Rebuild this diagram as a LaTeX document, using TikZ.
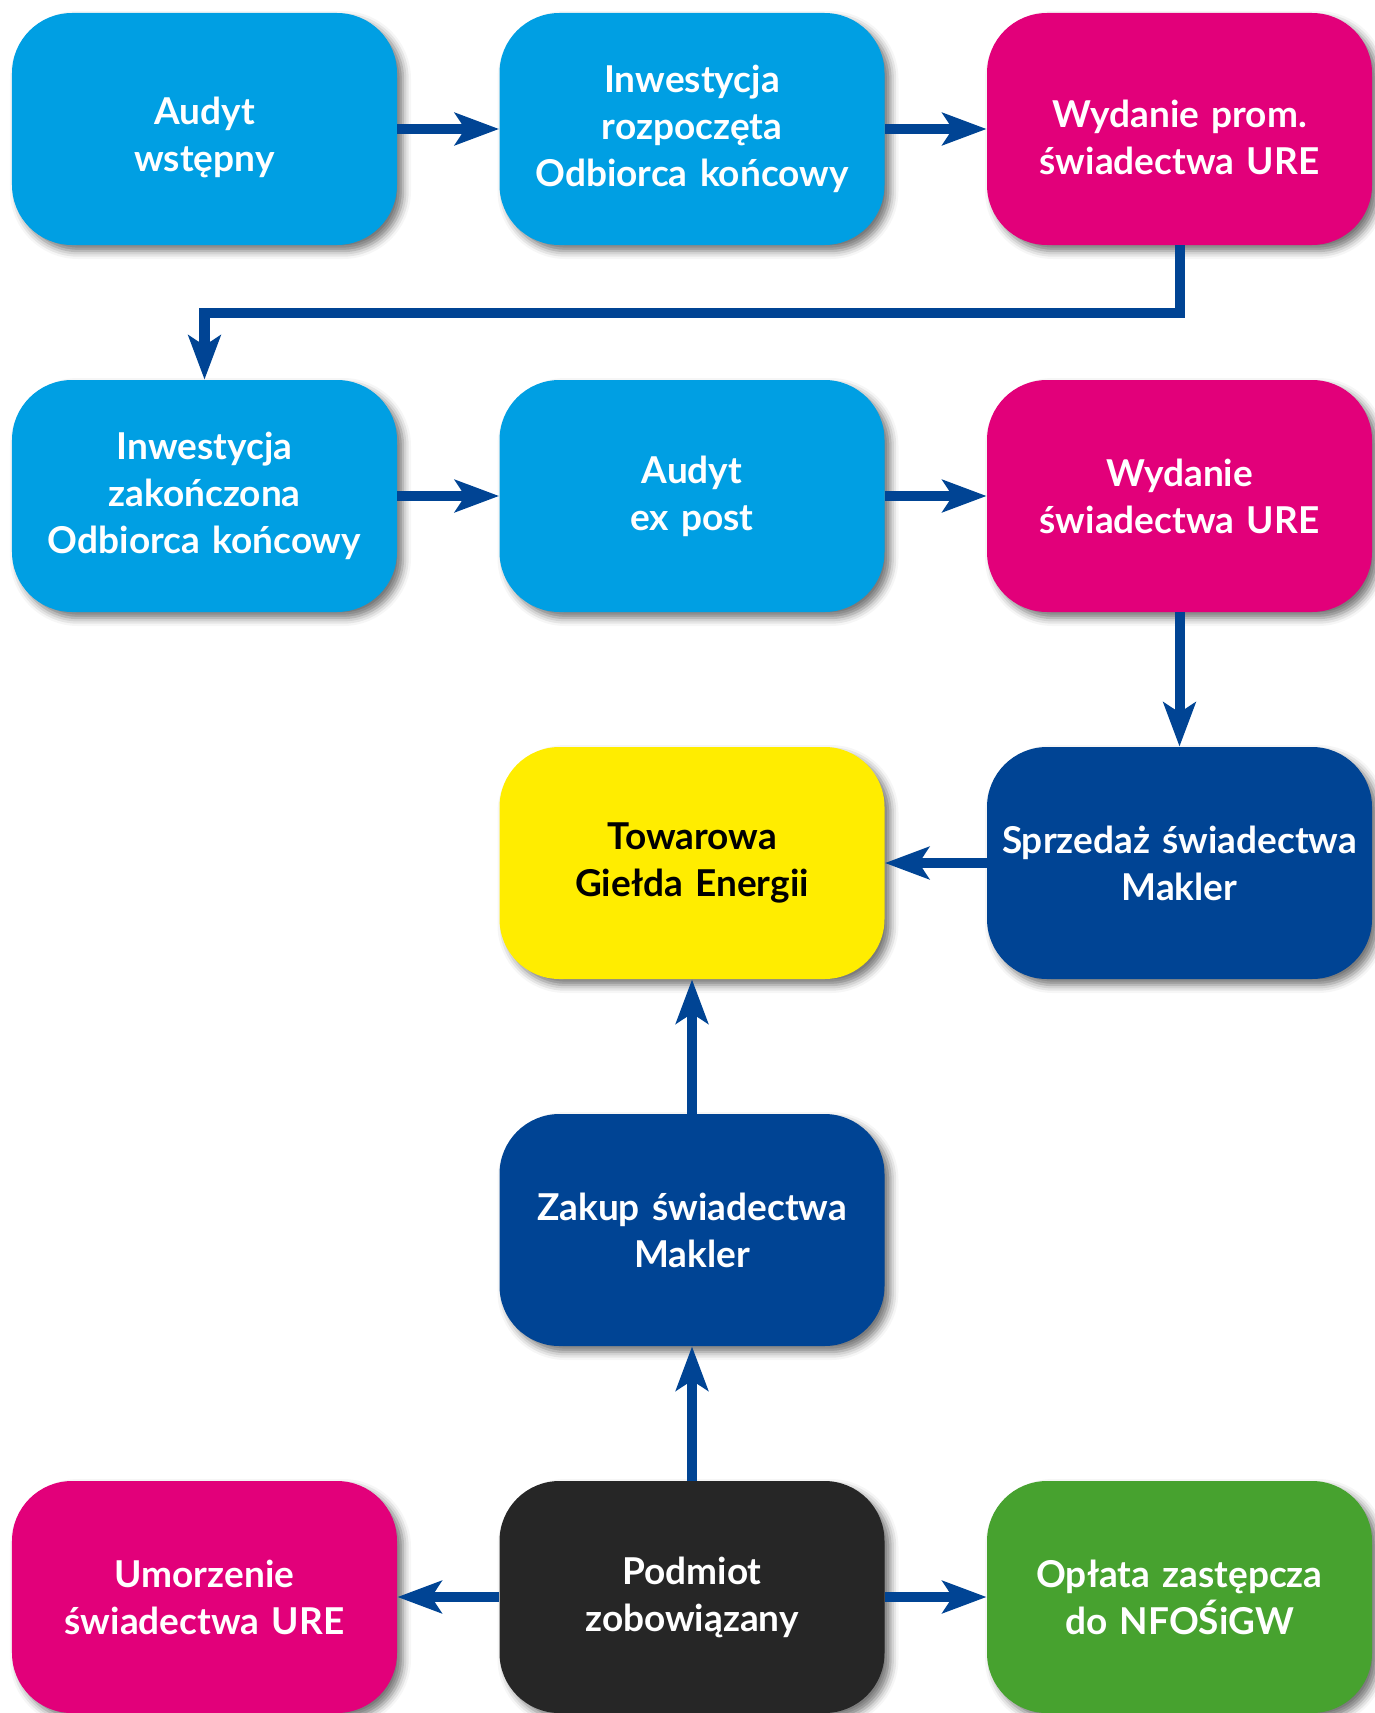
\documentclass[tikz,border=0pt]{standalone}
\usepackage{fontspec}
\setmainfont{Lato}
\usepackage{tikz}
\usetikzlibrary{arrows.meta}
\usetikzlibrary{positioning}
\usetikzlibrary{calc}
\usetikzlibrary{shadows.blur}

\definecolor{lightblue}{HTML}{009FE3}
\definecolor{magenta}{HTML}{E2007A}
\definecolor{darkblue}{HTML}{004494}
\definecolor{yellowbox}{HTML}{FFED00}
\definecolor{blackbox}{HTML}{262626}
\definecolor{greenbox}{HTML}{47A22F}

% taller first line, text sits a bit lower in the box
\newcommand{\pushdown}{\rule{0pt}{22pt}}

\tikzset{
  box/.style={rectangle, rounded corners=30pt, minimum width=192.5pt, minimum height=116pt,
    text width=185pt, align=center, text=white, inner sep=0pt,
    font=\bfseries\fontsize{18.5}{23.5}\selectfont,
    blur shadow={shadow xshift=3pt, shadow yshift=-3pt, shadow blur radius=4pt, shadow opacity=55}},
  bluebox/.style={box, fill=lightblue},
  pinkbox/.style={box, fill=magenta},
  navybox/.style={box, fill=darkblue},
  yelbox/.style={box, fill=yellowbox, text=black},
  darkbox/.style={box, fill=blackbox},
  grnbox/.style={box, fill=greenbox},
  flow/.style={draw=darkblue, line width=5pt, -{Stealth[length=22pt, width=16pt, inset=5pt]}}
}

\begin{document}
\begin{tikzpicture}[node distance=183.5pt and 243.75pt,on grid]
   \useasboundingbox (-102.25pt,64.5pt) rectangle (585.25pt,-792pt);
   \node[bluebox] (audyt)     {\pushdown Audyt\\wstępny};
   \node[bluebox] (inw_start) [right=of audyt] {Inwestycja\\rozpoczęta\\Odbiorca końcowy};
   \node[pinkbox] (ure_prom)  [right=of inw_start] {\pushdown Wydanie prom.\\świadectwa URE};
   \node[bluebox] (inw_end)   [below=of audyt] {Inwestycja\\zakończona\\Odbiorca końcowy};
   \node[bluebox] (expost)    [right=of inw_end] {Audyt\\ex post};
   \node[pinkbox] (ure)       [right=of expost] {Wydanie\\świadectwa URE};
   \node[yelbox]  (tge)       [below=of expost] {Towarowa\\Giełda Energii};
   \node[navybox] (sprzedaz)  [below=of ure] {Sprzedaż świadectwa\\Makler};
   \node[navybox] (zakup)     [below=of tge] {Zakup świadectwa\\Makler};
   \node[darkbox] (podmiot)   [below=of zakup] {Podmiot\\zobowiązany};
   \node[pinkbox] (umorzenie) [left=of podmiot] {Umorzenie\\świadectwa URE};
   \node[grnbox]  (oplata)    [right=of podmiot] {Opłata zastępcza\\do NFOŚiGW};
   \coordinate (elbow) at ($(ure_prom.south)!0.5!(inw_end.north -| ure_prom)$);
    \path[flow]
    (audyt) edge (inw_start)
    (inw_start) edge (ure_prom)
    (inw_end) edge (expost)
    (expost) edge (ure)
    (ure) edge (sprzedaz)
    (sprzedaz) edge (tge)
    (zakup) edge (tge)
    (podmiot) edge (zakup)
    (podmiot) edge (umorzenie)
    (podmiot) edge (oplata);
    \draw[flow] (ure_prom.south) -- (elbow) -| (inw_end.north);
\end{tikzpicture}
\end{document}
